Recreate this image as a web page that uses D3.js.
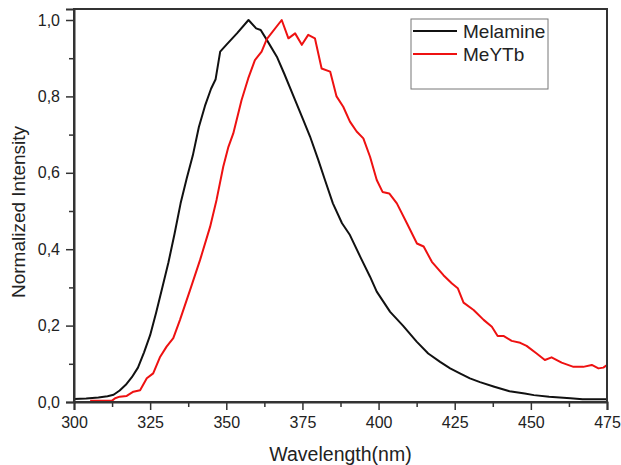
<!DOCTYPE html>
<html>
<head>
<meta charset="utf-8">
<script src="https://cdn.jsdelivr.net/npm/d3@7"></script>
<style>
  body { margin: 0; background: #fff; }
  svg { display: block; font-family: "Liberation Sans", Arial, sans-serif; }
</style>
</head>
<body>
<div id="chart"></div>
<script>
// emission spectra
var melamineWl = [300, 304, 308, 311, 313, 315, 317, 319, 321, 323, 325, 327, 329, 331, 333, 335, 337, 339, 341, 343, 345, 346.5, 348, 350, 353.5, 357.3, 359.8, 361.3, 363.3, 366.6, 369, 372.6, 375.3, 377.5, 380.2, 382.4, 385, 388, 390.6, 394, 397.2, 399.4, 403.8, 408, 412.5, 416.3, 420.2, 423.5, 426.7, 430, 433.3, 438, 443, 448, 451, 456, 463, 467, 475];
var melamineVal = [0.008, 0.009, 0.012, 0.015, 0.019, 0.03, 0.045, 0.065, 0.09, 0.13, 0.175, 0.235, 0.3, 0.365, 0.44, 0.52, 0.585, 0.645, 0.72, 0.775, 0.82, 0.845, 0.917, 0.935, 0.965, 1.0, 0.978, 0.974, 0.948, 0.904, 0.86, 0.79, 0.738, 0.695, 0.634, 0.581, 0.52, 0.468, 0.437, 0.38, 0.328, 0.289, 0.236, 0.2, 0.158, 0.127, 0.105, 0.088, 0.075, 0.062, 0.052, 0.04, 0.028, 0.022, 0.018, 0.014, 0.01, 0.007, 0.007];

var meytbWl = [305.3, 312.4, 313.5, 315, 317.3, 319.5, 321.7, 323.9, 326, 328.2, 330.4, 332.6, 334.8, 338.1, 341.4, 344.7, 346.8, 349, 350.7, 352.3, 355, 357.2, 359.4, 361.6, 363.3, 368.2, 370.4, 372.6, 374.8, 376.9, 379.1, 381.3, 384.1, 386.2, 388.4, 390.6, 392.8, 395, 397.2, 399.4, 401.3, 403.5, 406, 409.3, 412.6, 414.8, 417.5, 421.3, 424.1, 426, 427.9, 431.2, 434.5, 437.2, 439.1, 441, 443.7, 446.5, 448.6, 451.9, 454.6, 456.8, 460.1, 464, 467.2, 470, 472.2, 473.8, 475];
var meytbVal = [0.003, 0.003, 0.01, 0.014, 0.016, 0.027, 0.031, 0.062, 0.075, 0.117, 0.145, 0.167, 0.215, 0.293, 0.372, 0.459, 0.529, 0.616, 0.668, 0.703, 0.79, 0.847, 0.895, 0.917, 0.95, 1.0, 0.952, 0.965, 0.935, 0.961, 0.952, 0.873, 0.865, 0.8, 0.773, 0.734, 0.708, 0.69, 0.642, 0.581, 0.55, 0.546, 0.52, 0.468, 0.415, 0.407, 0.367, 0.332, 0.31, 0.298, 0.26, 0.241, 0.215, 0.197, 0.173, 0.173, 0.16, 0.155, 0.147, 0.127, 0.11, 0.117, 0.103, 0.092, 0.092, 0.097, 0.088, 0.09, 0.097];

var seriesNames = ["Melamine", "MeYTb"];
var seriesColors = ["#111111", "#ee1111"];

var xMajor = [300, 325, 350, 375, 400, 425, 450, 475];
var xMinor = [312.5, 337.5, 362.5, 387.5, 412.5, 437.5, 462.5];
var yMajor = [0, 0.2, 0.4, 0.6, 0.8, 1.0];
var yMinor = [0.1, 0.3, 0.5, 0.7, 0.9];

(function () {
  var W = 621, H = 465;
  var m = { left: 74, right: 607, top: 9, bottom: 402 };

  var x = d3.scaleLinear().domain([300, 475]).range([m.left, m.right]);
  var y = d3.scaleLinear().domain([0, 1.0288]).range([m.bottom, m.top]);

  var svg = d3.select("#chart").append("svg")
    .attr("width", W).attr("height", H);

  var series = [
    { name: seriesNames[0], color: seriesColors[0], pts: melamineWl.map(function (w, i) { return [w, melamineVal[i]]; }) },
    { name: seriesNames[1], color: seriesColors[1], pts: meytbWl.map(function (w, i) { return [w, meytbVal[i]]; }) }
  ];

  var line = d3.line()
    .x(function (d) { return x(d[0]); })
    .y(function (d) { return y(d[1]); });

  /* curves */
  svg.append("g").selectAll("path")
    .data(series).enter()
    .append("path")
    .attr("fill", "none")
    .attr("stroke", function (d) { return d.color; })
    .attr("stroke-width", 2)
    .attr("stroke-linejoin", "round")
    .attr("d", function (d) { return line(d.pts); });

  /* frame */
  svg.append("rect")
    .attr("x", m.left).attr("y", m.top)
    .attr("width", m.right - m.left).attr("height", m.bottom - m.top)
    .attr("fill", "none").attr("stroke", "#333").attr("stroke-width", 2);

  /* axes */
  var fmt = function (d) { return d3.format(".1f")(d).replace(".", ","); };

  svg.append("g").attr("transform", "translate(0," + m.bottom + ")")
    .call(d3.axisBottom(x).tickValues(xMajor).tickSize(8).tickPadding(7).tickFormat(d3.format("d")));
  svg.append("g").attr("transform", "translate(0," + m.bottom + ")")
    .call(d3.axisBottom(x).tickValues(xMinor).tickSize(5).tickFormat(""))
    .select(".domain").remove();

  svg.append("g").attr("transform", "translate(" + m.left + ",0)")
    .call(d3.axisLeft(y).tickValues(yMajor).tickSize(8).tickPadding(6).tickFormat(fmt));
  svg.append("g").attr("transform", "translate(" + m.left + ",0)")
    .call(d3.axisLeft(y).tickValues(yMinor).tickSize(5).tickFormat(""))
    .select(".domain").remove();

  svg.selectAll(".domain").attr("stroke", "#333").attr("stroke-width", 2);
  svg.selectAll(".tick line").attr("stroke", "#333").attr("stroke-width", 1.5);
  svg.selectAll(".tick text")
    .attr("fill", "#222")
    .attr("font-size", 16)
    .attr("font-family", "'Liberation Sans', Arial, sans-serif");

  /* axis titles */
  svg.append("text")
    .attr("x", (m.left + m.right) / 2).attr("y", 461)
    .attr("text-anchor", "middle")
    .style("font-size", "19.5px").attr("fill", "#222")
    .text("Wavelength(nm)");

  svg.append("text")
    .attr("transform", "translate(25,212) rotate(-90)")
    .attr("text-anchor", "middle")
    .style("font-size", "19px").attr("fill", "#222")
    .text("Normalized Intensity");

  /* legend */
  var legend = svg.append("g").attr("transform", "translate(411,19)");
  legend.append("rect")
    .attr("width", 137).attr("height", 70)
    .attr("fill", "#fff").attr("stroke", "#777").attr("stroke-width", 1);
  var items = legend.selectAll("g.item")
    .data(series).enter()
    .append("g").attr("class", "item")
    .attr("transform", function (d, i) { return "translate(0," + (12 + i * 23) + ")"; });
  items.append("line")
    .attr("x1", 2).attr("x2", 46)
    .attr("stroke", function (d) { return d.color; })
    .attr("stroke-width", 2);
  items.append("text")
    .attr("x", 52).attr("y", 7)
    .style("font-size", "19px").attr("fill", "#222")
    .text(function (d) { return d.name; });
})();
</script>
</body>
</html>
